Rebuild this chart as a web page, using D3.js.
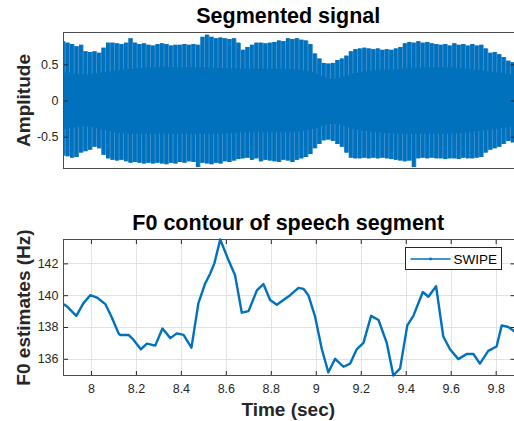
<!DOCTYPE html>
<html>
<head>
<meta charset="utf-8">
<script src="https://cdn.jsdelivr.net/npm/d3@7"></script>
<style>
  body { margin: 0; background: #fff; }
  svg { display: block; font-family: "Liberation Sans", Arial, sans-serif; }
</style>
</head>
<body>
<div id="chart"></div>
<script>
// envelope of the segmented signal, read every 0.02 s from 7.877 s
var envStart = 7.877;
var envStep = 0.02;
var envUpper = [0.82, 0.80, 0.78, 0.75, 0.77, 0.68, 0.67, 0.68, 0.66, 0.73,
    0.80, 0.80, 0.79, 0.78, 0.80, 0.86, 0.80, 0.78, 0.79, 0.77,
    0.76, 0.78, 0.79, 0.78, 0.76, 0.77, 0.77, 0.78, 0.77, 0.78,
    0.77, 0.88, 0.91, 0.88, 0.86, 0.87, 0.86, 0.85, 0.86, 0.80,
    0.70, 0.74, 0.77, 0.80, 0.80, 0.79, 0.80, 0.81, 0.83, 0.82,
    0.86, 0.85, 0.86, 0.84, 0.83, 0.78, 0.65, 0.58, 0.52, 0.51,
    0.52, 0.56, 0.58, 0.62, 0.68, 0.71, 0.72, 0.73, 0.72, 0.71,
    0.72, 0.70, 0.71, 0.70, 0.72, 0.74, 0.79, 0.81, 0.80, 0.82,
    0.80, 0.81, 0.79, 0.78, 0.77, 0.78, 0.76, 0.79, 0.77, 0.78,
    0.76, 0.78, 0.76, 0.77, 0.72, 0.66, 0.67, 0.64, 0.60, 0.55, 0.53];
var envLower = [-0.76, -0.77, -0.79, -0.78, -0.72, -0.70, -0.68, -0.64, -0.66, -0.75,
    -0.80, -0.82, -0.83, -0.82, -0.84, -0.86, -0.85, -0.86, -0.87, -0.86,
    -0.87, -0.86, -0.87, -0.88, -0.86, -0.87, -0.85, -0.86, -0.84, -0.85,
    -0.92, -0.86, -0.87, -0.88, -0.86, -0.87, -0.84, -0.85, -0.83, -0.81,
    -0.80, -0.79, -0.82, -0.80, -0.84, -0.82, -0.83, -0.84, -0.85, -0.82,
    -0.83, -0.85, -0.82, -0.80, -0.78, -0.74, -0.66, -0.60, -0.55, -0.54,
    -0.56, -0.60, -0.64, -0.72, -0.79, -0.80, -0.80, -0.79, -0.80, -0.79,
    -0.80, -0.79, -0.80, -0.81, -0.82, -0.83, -0.84, -0.83, -0.92, -0.80,
    -0.79, -0.80, -0.79, -0.80, -0.80, -0.81, -0.80, -0.80, -0.81, -0.79,
    -0.80, -0.80, -0.79, -0.78, -0.72, -0.68, -0.66, -0.64, -0.60, -0.56, -0.58];

// solid inner band of the signal, read every 0.1 s
var coreStep = 0.1;
var coreUpper = [0.40, 0.36, 0.40, 0.44, 0.46, 0.46, 0.46, 0.45, 0.44, 0.44, 0.44,
    0.40, 0.30, 0.38, 0.42, 0.44, 0.46, 0.46, 0.44, 0.40, 0.36];
var coreLower = [-0.40, -0.36, -0.42, -0.46, -0.46, -0.46, -0.46, -0.46, -0.44, -0.44, -0.44,
    -0.40, -0.32, -0.40, -0.44, -0.46, -0.46, -0.46, -0.44, -0.40, -0.36];

// F0 contour (SWIPE)
var f0Time = [7.879, 7.893, 7.935, 7.967, 7.997, 8.027, 8.064, 8.093, 8.123, 8.130,
    8.167, 8.189, 8.222, 8.249, 8.286, 8.318, 8.353, 8.382, 8.412, 8.447,
    8.478, 8.507, 8.530, 8.549, 8.575, 8.612, 8.641, 8.671, 8.701, 8.738,
    8.767, 8.797, 8.827, 8.856, 8.886, 8.923, 8.945, 8.967, 8.997, 9.027,
    9.056, 9.086, 9.123, 9.153, 9.182, 9.212, 9.246, 9.279, 9.316, 9.345,
    9.375, 9.407, 9.434, 9.476, 9.501, 9.535, 9.567, 9.597, 9.634, 9.671,
    9.701, 9.730, 9.767, 9.804, 9.827, 9.856, 9.886];
var f0Hz = [139.42, 139.3, 138.7, 139.5, 140.0, 139.85, 139.44, 138.6, 137.6, 137.5,
    137.5, 137.2, 136.6, 136.95, 136.83, 137.9, 137.3, 137.6, 137.5, 136.7,
    139.5, 140.7, 141.35, 142.0, 143.5, 142.2, 141.25, 138.9, 139.0, 140.3,
    140.7, 139.7, 139.4, 139.7, 140.0, 140.46, 140.4, 140.0, 138.65, 136.6,
    135.15, 136.0, 135.5, 135.7, 136.6, 137.0, 138.7, 138.44, 136.98, 134.95,
    135.4, 138.1, 138.7, 140.2, 139.9, 140.56, 137.4, 136.6, 135.98, 136.3,
    136.3, 135.7, 136.5, 136.77, 138.1, 138.0, 137.7];

var ampTicks = [-0.5, 0, 0.5];
var timeTicks = [8, 8.2, 8.4, 8.6, 8.8, 9, 9.2, 9.4, 9.6, 9.8];
var hzTicks = [136, 138, 140, 142];

var width = 514, height = 421;
var blue = "#0072BD", paleBlue = "#4a97d4", ink = "#262626";

var svg = d3.select("#chart").append("svg")
    .attr("width", width)
    .attr("height", height);

var left = 63.5, right = 515;
var top1 = 32.5, bottom1 = 168.5;
var top2 = 239.5, bottom2 = 375.5;

var x = d3.scaleLinear().domain([7.878, 9.886]).range([left, right]);
var yAmp = d3.scaleLinear().domain([-0.94, 0.94]).range([bottom1, top1]);
var yHz = d3.scaleLinear().domain([134.95, 143.5]).range([bottom2, top2]);

svg.append("clipPath").attr("id", "clip1")
    .append("rect").attr("x", left).attr("y", top1)
    .attr("width", right - left).attr("height", bottom1 - top1);
svg.append("clipPath").attr("id", "clip2")
    .append("rect").attr("x", left).attr("y", top2 - 2)
    .attr("width", right - left).attr("height", bottom2 - top2 + 4);

// ---- top panel: segmented signal ----
var env = envUpper.map(function (u, i) {
    return { t: envStart + i * envStep, hi: u, lo: envLower[i] };
});
var core = coreUpper.map(function (u, i) {
    return { t: envStart + i * coreStep, hi: u, lo: coreLower[i] };
});

var sig = svg.append("g").attr("clip-path", "url(#clip1)");

// pale fill under the spikes so the gaps read as light streaks
sig.append("path")
    .datum(env)
    .attr("fill", paleBlue)
    .attr("d", d3.area()
        .curve(d3.curveStep)
        .x(function (d) { return x(d.t); })
        .y0(function (d) { return yAmp(d.lo); })
        .y1(function (d) { return yAmp(d.hi); }));

// one spike per envelope sample
sig.selectAll(".spike")
    .data(env)
    .enter()
    .append("rect")
    .attr("class", "spike")
    .attr("x", function (d) { return x(d.t - envStep / 2); })
    .attr("width", function (d) { return x(d.t + envStep / 2) - x(d.t - envStep / 2) - 0.8; })
    .attr("y", function (d) { return yAmp(d.hi); })
    .attr("height", function (d) { return yAmp(d.lo) - yAmp(d.hi); })
    .attr("fill", blue);

// solid core
sig.append("path")
    .datum(core)
    .attr("fill", blue)
    .attr("d", d3.area()
        .curve(d3.curveMonotoneX)
        .x(function (d) { return x(d.t); })
        .y0(function (d) { return yAmp(d.lo); })
        .y1(function (d) { return yAmp(d.hi); }));

function styleTicks(g) {
    g.select(".domain").remove();
    g.selectAll(".tick line").attr("stroke", ink);
    g.selectAll(".tick text").attr("fill", ink).attr("font-size", 12.5)
        .attr("font-family", "Liberation Sans, Arial, sans-serif");
}

svg.append("g")
    .attr("transform", "translate(" + left + ",0)")
    .call(d3.axisLeft(yAmp).tickValues(ampTicks).tickSize(-4.5).tickPadding(5)
        .tickFormat(function (d) { return d === 0 ? "0" : d; }))
    .call(styleTicks);
svg.append("g")
    .attr("transform", "translate(" + right + ",0)")
    .call(d3.axisRight(yAmp).tickValues(ampTicks).tickSize(-4.5).tickFormat(""))
    .call(styleTicks);

svg.append("rect")
    .attr("x", left).attr("y", top1)
    .attr("width", right - left).attr("height", bottom1 - top1)
    .attr("fill", "none").attr("stroke", "#4d4d4d");

svg.append("text")
    .attr("x", (left + 513) / 2).attr("y", 23)
    .attr("text-anchor", "middle")
    .attr("font-size", 21.5).attr("font-weight", "bold")
    .text("Segmented signal");

svg.append("text")
    .attr("transform", "translate(30," + ((top1 + bottom1) / 2) + ") rotate(-90)")
    .attr("text-anchor", "middle")
    .attr("font-size", 19).attr("font-weight", "bold")
    .attr("fill", ink)
    .text("Amplitude");

// ---- bottom panel: F0 contour ----
var grid = svg.append("g").attr("stroke", "#e3e3e3").attr("stroke-width", 1);
grid.selectAll(".gx").data(timeTicks).enter().append("line")
    .attr("x1", function (d) { return Math.round(x(d)) + 0.5; })
    .attr("x2", function (d) { return Math.round(x(d)) + 0.5; })
    .attr("y1", top2).attr("y2", bottom2);
grid.selectAll(".gy").data(hzTicks).enter().append("line")
    .attr("x1", left).attr("x2", right)
    .attr("y1", function (d) { return Math.round(yHz(d)) + 0.5; })
    .attr("y2", function (d) { return Math.round(yHz(d)) + 0.5; });

var line = d3.line()
    .x(function (d, i) { return x(f0Time[i]); })
    .y(function (d) { return yHz(d); });

svg.append("path")
    .datum(f0Hz)
    .attr("clip-path", "url(#clip2)")
    .attr("fill", "none")
    .attr("stroke", blue)
    .attr("stroke-width", 2.4)
    .attr("stroke-linejoin", "round")
    .attr("d", line);

svg.append("g")
    .attr("transform", "translate(0," + bottom2 + ")")
    .call(d3.axisBottom(x).tickValues(timeTicks).tickSize(-4.5).tickPadding(9)
        .tickFormat(d3.format("")))
    .call(styleTicks);
svg.append("g")
    .attr("transform", "translate(0," + top2 + ")")
    .call(d3.axisTop(x).tickValues(timeTicks).tickSize(-4.5).tickFormat(""))
    .call(styleTicks);
svg.append("g")
    .attr("transform", "translate(" + left + ",0)")
    .call(d3.axisLeft(yHz).tickValues(hzTicks).tickSize(-4.5).tickPadding(5))
    .call(styleTicks);
svg.append("g")
    .attr("transform", "translate(" + right + ",0)")
    .call(d3.axisRight(yHz).tickValues(hzTicks).tickSize(-4.5).tickFormat(""))
    .call(styleTicks);

svg.append("rect")
    .attr("x", left).attr("y", top2)
    .attr("width", right - left).attr("height", bottom2 - top2)
    .attr("fill", "none").attr("stroke", "#4d4d4d");

svg.append("text")
    .attr("x", (left + 513) / 2).attr("y", 230)
    .attr("text-anchor", "middle")
    .attr("font-size", 21.5).attr("font-weight", "bold")
    .text("F0 contour of speech segment");

svg.append("text")
    .attr("transform", "translate(30," + ((top2 + bottom2) / 2) + ") rotate(-90)")
    .attr("text-anchor", "middle")
    .attr("font-size", 19).attr("font-weight", "bold")
    .attr("fill", ink)
    .text("F0 estimates (Hz)");

svg.append("text")
    .attr("x", (left + 513) / 2).attr("y", 416)
    .attr("text-anchor", "middle")
    .attr("font-size", 19).attr("font-weight", "bold")
    .attr("fill", ink)
    .text("Time (sec)");

// legend
var legend = svg.append("g").attr("transform", "translate(405.5,247.5)");
legend.append("rect")
    .attr("width", 96).attr("height", 22)
    .attr("fill", "#fff").attr("stroke", ink);
legend.append("line")
    .attr("x1", 5).attr("x2", 45).attr("y1", 11.5).attr("y2", 11.5)
    .attr("stroke", blue).attr("stroke-width", 1.5);
legend.append("circle")
    .attr("cx", 25).attr("cy", 11.5).attr("r", 1.4).attr("fill", blue);
legend.append("text")
    .attr("x", 48).attr("y", 16.5)
    .attr("font-size", 13.5).attr("fill", "#000")
    .text("SWIPE");
</script>
</body>
</html>
